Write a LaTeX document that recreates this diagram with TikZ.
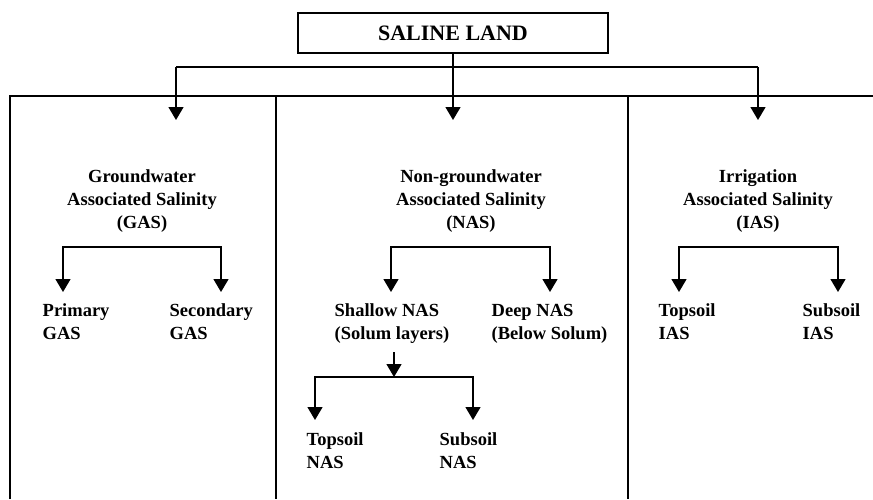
\documentclass[tikz,border=0pt]{standalone}
\usepackage{fontspec}
\setmainfont{Liberation Serif}
\usepackage{tikz}
\usetikzlibrary{arrows.meta}
\newcommand{\lw}{1.4pt}
\newcommand{\labfont}{\bfseries\fontsize{18.5}{23}\selectfont}

\begin{document}
\begin{tikzpicture}[x=1pt, y=-1pt, line width=\lw,
    tri/.style={-{Triangle[width=15pt,length=13pt]}},
    lab/.style={anchor=west, inner sep=0pt, align=left, font=\labfont},
    head/.style={inner sep=0pt, align=center, font=\labfont}]
        \useasboundingbox (0,0) rectangle (873,499);

          % top box
        \node (land) at (453,33) [draw, minimum width=310pt, minimum height=40pt,
          font=\bfseries\fontsize{22}{26}\selectfont] {SALINE LAND};

          % frame of the three columns
        \coordinate (fbl) at (10,499);
        \coordinate (ftl) at (10,96);
        \coordinate (ftr) at (873,96);
        \coordinate (d1t) at (276,96);
        \coordinate (d1b) at (276,499);
        \coordinate (d2t) at (628,96);
        \coordinate (d2b) at (628,499);
        \draw (fbl) to (ftl) to (ftr)
        (d1t) to (d1b)
        (d2t) to (d2b);

          % bus under the box
        \coordinate (busL) at (176,67);
        \coordinate (busR) at (758,67);
        \coordinate (tipG) at (176,120);
        \coordinate (tipN) at (453,120);
        \coordinate (tipI) at (758,120);
        \draw (busL) to (busR);
        \draw[tri] (land.south) to (tipN);
        \draw[tri] (busL) to (tipG);
        \draw[tri] (busR) to (tipI);

          % column heads
        \node (gas) at (142,201) [head] {Groundwater\\Associated Salinity\\(GAS)};
        \node (nas) at (471,201) [head] {Non-groundwater\\Associated Salinity\\(NAS)};
        \node (ias) at (758,201) [head] {Irrigation\\Associated Salinity\\(IAS)};

          % GAS
        \coordinate (gasb) at (142,247);
        \coordinate (gasL) at (63,292);
        \coordinate (gasR) at (221,292);
        \draw[tri] (gasb) -| (gasL);
        \draw[tri] (gasb) -| (gasR);
        \node (prim) at (42,322) [lab] {Primary\\GAS};
        \node (sec) at (169,322) [lab] {Secondary\\GAS};

          % NAS
        \coordinate (nasb) at (470,247);
        \coordinate (nasL) at (391,292);
        \coordinate (nasR) at (550,292);
        \draw[tri] (nasb) -| (nasL);
        \draw[tri] (nasb) -| (nasR);
        \node (shal) at (334,323.5) [lab] {Shallow NAS\\(Solum layers)};
        \node (deep) at (491,323.5) [lab] {Deep NAS\\(Below Solum)};

        \coordinate (shb) at (394,352);
        \coordinate (shj) at (394,377);
        \coordinate (shL) at (315,420);
        \coordinate (shR) at (473,420);
        \draw[tri] (shb) to (shj);
        \draw[tri] (shj) -| (shL);
        \draw[tri] (shj) -| (shR);
        \node (topn) at (306,450.5) [lab] {Topsoil\\NAS};
        \node (subn) at (439,450.5) [lab] {Subsoil\\NAS};

          % IAS
        \coordinate (iasb) at (758,247);
        \coordinate (iasL) at (679,292);
        \coordinate (iasR) at (838,292);
        \draw[tri] (iasb) -| (iasL);
        \draw[tri] (iasb) -| (iasR);
        \node (topi) at (658,322) [lab] {Topsoil\\IAS};
        \node (subi) at (802,322) [lab] {Subsoil\\IAS};
\end{tikzpicture}
\end{document}
